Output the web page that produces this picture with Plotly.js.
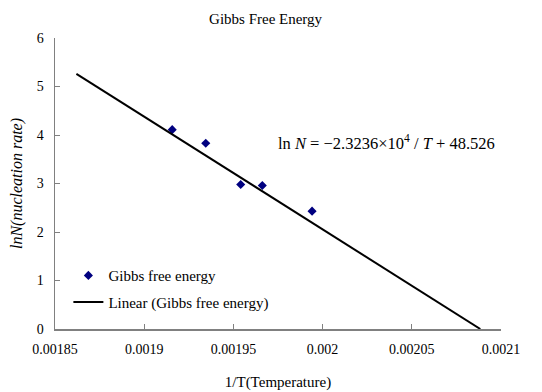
<!DOCTYPE html>
<html>
<head>
<meta charset="utf-8">
<script src="https://cdn.plot.ly/plotly-3.0.1.min.js"></script>
<style>html,body{margin:0;padding:0;background:#fff;}#chart{width:542px;height:392px;}</style>
</head>
<body>
<div id="chart"></div>
<script>
// Data
const invT = [0.0019157, 0.0019345, 0.0019541, 0.0019662, 0.0019941];
const lnN  = [4.11, 3.83, 2.98, 2.96, 2.43];
// Trendline: lnN = slope * (1/T) + intercept
const trendSlope = -23236;
const trendIntercept = 48.526;
const trendX = [0.001862, 0.0020884];
const trendY = trendX.map(v => trendSlope * v + trendIntercept);
const xTicks = [0.00185, 0.0019, 0.00195, 0.002, 0.00205, 0.0021];
const xTickLabels = ["0.00185", "0.0019", "0.00195", "0.002", "0.00205", "0.0021"];
const yTicks = [0, 1, 2, 3, 4, 5, 6];

const font = "Liberation Serif, Times New Roman, serif";

const traces = [
  {
    x: invT, y: lnN, type: "scatter", mode: "markers",
    name: "Gibbs free energy", legendgroup: "a",
    marker: {symbol: "diamond", size: 7, color: "#000080"}
  },
  {
    x: trendX, y: trendY, type: "scatter", mode: "lines",
    name: "Linear (Gibbs free energy)", legendgroup: "b",
    line: {color: "#000000", width: 2}
  }
];

const layout = {
  width: 542, height: 392,
  margin: {l: 55, r: 41, t: 38, b: 63},
  paper_bgcolor: "#ffffff", plot_bgcolor: "#ffffff",
  font: {family: font, size: 14, color: "#000"},
  showlegend: true,
  title: {text: "Gibbs Free Energy", font: {family: font, size: 15, color: "#000"}, x: 0.49, xanchor: "center", y: 0.953, yanchor: "middle"},
  xaxis: {
    range: [0.00185, 0.0021], tickvals: xTicks, ticktext: xTickLabels,
    showgrid: false, zeroline: false, showline: true, linecolor: "#808080", linewidth: 1.5,
    ticks: "inside", ticklen: 5, tickcolor: "#808080", tickwidth: 1,
    ticklabelstandoff: 7,
    tickfont: {family: font, size: 14, color: "#000"},
    title: {text: "1/T(Temperature)", font: {family: font, size: 15, color: "#000"}, standoff: 20}
  },
  yaxis: {
    range: [0, 6], tickvals: yTicks,
    showgrid: false, zeroline: false, showline: true, linecolor: "#808080", linewidth: 1.5,
    ticks: "inside", ticklen: 5, tickcolor: "#808080", tickwidth: 1,
    ticklabelstandoff: 7,
    tickfont: {family: font, size: 14, color: "#000"},
    title: {text: "<i>lnN(nucleation rate)</i>", font: {family: font, size: 16, color: "#000"}, standoff: 10}
  },
  legend: {
    x: 0.03, y: 0.24, xanchor: "left", yanchor: "top",
    bgcolor: "rgba(0,0,0,0)", font: {family: font, size: 15, color: "#000"},
    traceorder: "grouped", tracegroupgap: 4, itemwidth: 30
  },
  annotations: [{
    xref: "paper", yref: "paper", x: 0.744, y: 0.64, xanchor: "center", yanchor: "middle",
    showarrow: false,
    text: "ln <i>N</i> = −2.3236×10<sup>4</sup> / <i>T</i> + 48.526",
    font: {family: font, size: 16.5, color: "#000"}
  }]
};

Plotly.newPlot("chart", traces, layout, {displayModeBar: false, staticPlot: true});
</script>
</body>
</html>
